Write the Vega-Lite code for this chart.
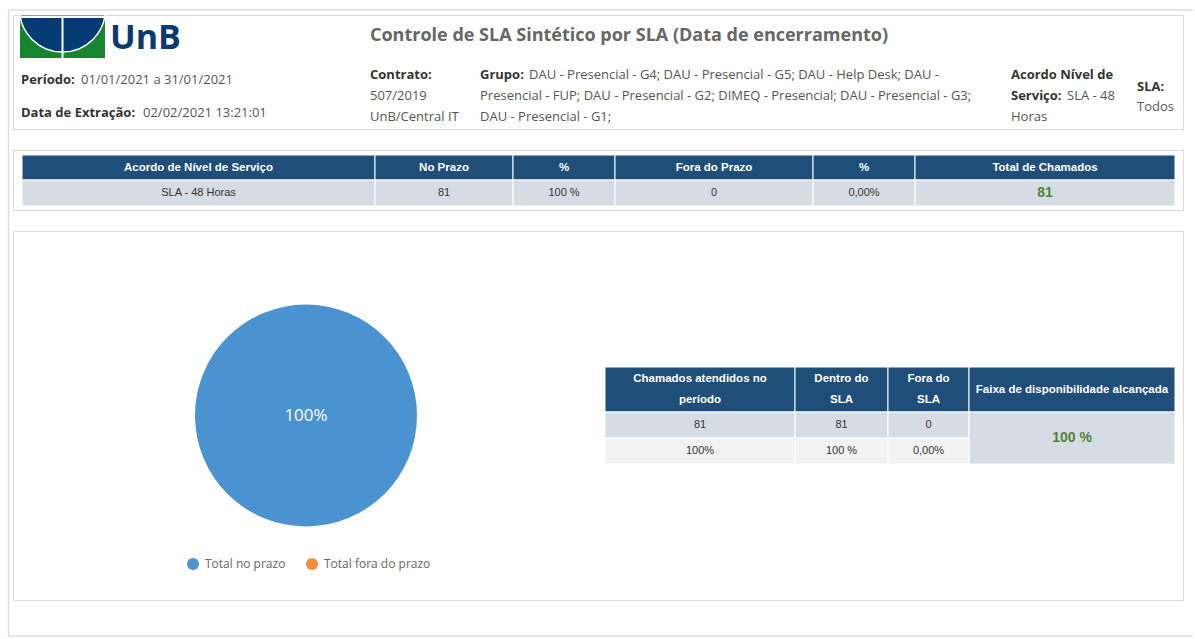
{
  "$schema": "https://vega.github.io/schema/vega-lite/v6.json",
  "background": "white",
  "padding": {"left": 7, "top": 8, "right": 0, "bottom": 2},
  "spacing": 21,
  "bounds": "flush",
  "config": {"view": {"stroke": "#d9d9d9", "strokeWidth": 1}, "font": "Open Sans"},
  "datasets": {
    "cabecalho": [
      {"bloco": 1, "linha": 0, "titulo": "Controle de SLA Sintético por SLA (Data de encerramento)"},
      {"bloco": 0, "linha": 1, "rotulo": "Período:", "valor": "01/01/2021 a 31/01/2021"},
      {"bloco": 0, "linha": 2, "rotulo": "Data de Extração:", "valor": "02/02/2021 13:21:01"},
      {"bloco": 1, "linha": 1, "rotulo": "Contrato:"},
      {"bloco": 1, "linha": 2, "valor": "507/2019"},
      {"bloco": 1, "linha": 3, "valor": "UnB/Central IT"},
      {"bloco": 2, "linha": 1, "rotulo": "Grupo:", "valor": "DAU - Presencial - G4; DAU - Presencial - G5; DAU - Help Desk; DAU -"},
      {"bloco": 2, "linha": 2, "valor": "Presencial - FUP; DAU - Presencial - G2; DIMEQ - Presencial; DAU - Presencial - G3;"},
      {"bloco": 2, "linha": 3, "valor": "DAU - Presencial - G1;"},
      {"bloco": 3, "linha": 1, "rotulo": "Acordo Nível de"},
      {"bloco": 3, "linha": 2, "rotulo": "Serviço:", "valor": "SLA - 48"},
      {"bloco": 3, "linha": 3, "valor": "Horas"},
      {"bloco": 4, "linha": 1, "rotulo": "SLA:"},
      {"bloco": 4, "linha": 2, "valor": "Todos"}
    ],
    "tabelaSla": [
      {"linha": 0, "coluna": 0, "linhas": 1, "colunas": 1, "texto": "Acordo de Nível de Serviço"},
      {"linha": 0, "coluna": 1, "linhas": 1, "colunas": 1, "texto": "No Prazo"},
      {"linha": 0, "coluna": 2, "linhas": 1, "colunas": 1, "texto": "%"},
      {"linha": 0, "coluna": 3, "linhas": 1, "colunas": 1, "texto": "Fora do Prazo"},
      {"linha": 0, "coluna": 4, "linhas": 1, "colunas": 1, "texto": "%"},
      {"linha": 0, "coluna": 5, "linhas": 1, "colunas": 1, "texto": "Total de Chamados"},
      {"linha": 1, "coluna": 0, "linhas": 1, "colunas": 1, "texto": "SLA - 48 Horas"},
      {"linha": 1, "coluna": 1, "linhas": 1, "colunas": 1, "texto": "81"},
      {"linha": 1, "coluna": 2, "linhas": 1, "colunas": 1, "texto": "100 %"},
      {"linha": 1, "coluna": 3, "linhas": 1, "colunas": 1, "texto": "0"},
      {"linha": 1, "coluna": 4, "linhas": 1, "colunas": 1, "texto": "0,00%"},
      {"linha": 1, "coluna": 5, "linhas": 1, "colunas": 1, "texto": "81", "destaque": true}
    ],
    "grafico": [
      {"situacao": "Total no prazo", "chamados": 81, "percentual": "100%"},
      {"situacao": "Total fora do prazo", "chamados": 0, "percentual": "0%"}
    ],
    "tabelaResumo": [
      {"linha": 0, "coluna": 0, "linhas": 1, "colunas": 1, "texto": "Chamados atendidos no\nperíodo"},
      {"linha": 0, "coluna": 1, "linhas": 1, "colunas": 1, "texto": "Dentro do\nSLA"},
      {"linha": 0, "coluna": 2, "linhas": 1, "colunas": 1, "texto": "Fora do\nSLA"},
      {"linha": 0, "coluna": 3, "linhas": 1, "colunas": 1, "texto": "Faixa de disponibilidade alcançada"},
      {"linha": 1, "coluna": 0, "linhas": 1, "colunas": 1, "texto": "81"},
      {"linha": 1, "coluna": 1, "linhas": 1, "colunas": 1, "texto": "81"},
      {"linha": 1, "coluna": 2, "linhas": 1, "colunas": 1, "texto": "0"},
      {"linha": 1, "coluna": 3, "linhas": 2, "colunas": 1, "texto": "100 %", "destaque": true},
      {"linha": 2, "coluna": 0, "linhas": 1, "colunas": 1, "texto": "100%"},
      {"linha": 2, "coluna": 1, "linhas": 1, "colunas": 1, "texto": "100 %"},
      {"linha": 2, "coluna": 2, "linhas": 1, "colunas": 1, "texto": "0,00%"}
    ]
  },
  "vconcat": [
    {
      "width": 1170,
      "height": 114,
      "resolve": {"scale": {"x": "independent", "y": "independent"}},
      "layer": [
        {
          "data": {"values": [{}]},
          "mark": {"type": "rule", "stroke": "#dddddd", "strokeWidth": 1.5},
          "encoding": {
            "x": {"datum": -4.5, "type": "quantitative", "scale": {"domain": [0, 1170], "range": [0, 1170], "nice": false, "zero": false}, "axis": null},
            "x2": {"datum": 1180},
            "y": {"datum": -5, "type": "quantitative", "scale": {"domain": [0, 114], "range": [0, 114], "nice": false, "zero": false}, "axis": null}
          }
        },
        {
          "data": {"values": [{}]},
          "mark": {"type": "rule", "stroke": "#dddddd", "strokeWidth": 1.5},
          "encoding": {
            "x": {"datum": -4.5, "type": "quantitative", "scale": {"domain": [0, 1170], "range": [0, 1170], "nice": false, "zero": false}, "axis": null},
            "y": {"datum": -5, "type": "quantitative", "scale": {"domain": [0, 114], "range": [0, 114], "nice": false, "zero": false}, "axis": null},
            "y2": {"datum": 621}
          }
        },
        {
          "data": {"values": [{}]},
          "mark": {"type": "rule", "stroke": "#dddddd", "strokeWidth": 1.5},
          "encoding": {
            "x": {"datum": -4.5, "type": "quantitative", "scale": {"domain": [0, 1170], "range": [0, 1170], "nice": false, "zero": false}, "axis": null},
            "x2": {"datum": 1180},
            "y": {"datum": 621, "type": "quantitative", "scale": {"domain": [0, 114], "range": [0, 114], "nice": false, "zero": false}, "axis": null}
          }
        },
        {
          "data": {"values": [{}]},
          "mark": {"type": "rect", "fill": "#17852f"},
          "encoding": {
            "x": {"datum": 0, "type": "quantitative", "scale": {"domain": [0, 85], "range": [7, 92], "nice": false, "zero": false}, "axis": null},
            "x2": {"datum": 85},
            "y": {"datum": 0, "type": "quantitative", "scale": {"domain": [0, 40], "range": [3, 43], "nice": false, "zero": false}, "axis": null},
            "y2": {"datum": 40}
          }
        },
        {
          "data": {"values": [{}]},
          "mark": {"type": "arc", "fill": "#063c73", "stroke": "white", "strokeWidth": 1.5, "outerRadius": 43, "theta": 0, "theta2": 6.2832, "clip": true},
          "encoding": {
            "x": {"datum": 42.5, "type": "quantitative", "scale": {"domain": [0, 85], "range": [7, 92], "nice": false, "zero": false}, "axis": null},
            "y": {"datum": -9, "type": "quantitative", "scale": {"domain": [0, 40], "range": [3, 43], "nice": false, "zero": false}, "axis": null}
          }
        },
        {
          "data": {"values": [{}]},
          "mark": {"type": "rect", "fill": "white"},
          "encoding": {
            "x": {"datum": -1.5, "type": "quantitative", "scale": {"domain": [0, 85], "range": [7, 92], "nice": false, "zero": false}, "axis": null},
            "x2": {"datum": 86.5},
            "y": {"datum": -2.5, "type": "quantitative", "scale": {"domain": [0, 40], "range": [3, 43], "nice": false, "zero": false}, "axis": null},
            "y2": {"datum": 0}
          }
        },
        {
          "data": {"values": [{}]},
          "mark": {"type": "rect", "fill": "white"},
          "encoding": {
            "x": {"datum": 41.5, "type": "quantitative", "scale": {"domain": [0, 85], "range": [7, 92], "nice": false, "zero": false}, "axis": null},
            "x2": {"datum": 43.5},
            "y": {"datum": 0, "type": "quantitative", "scale": {"domain": [0, 40], "range": [3, 43], "nice": false, "zero": false}, "axis": null},
            "y2": {"datum": 40}
          }
        },
        {
          "data": {"values": [{"instituicao": "UnB"}]},
          "mark": {"type": "text", "font": "Open Sans", "fontSize": 34, "fontWeight": "bold", "color": "#0b3a70", "align": "left", "baseline": "middle"},
          "encoding": {
            "text": {"field": "instituicao"},
            "x": {"datum": 90, "type": "quantitative", "scale": {"domain": [0, 85], "range": [7, 92], "nice": false, "zero": false}, "axis": null},
            "y": {"datum": 21, "type": "quantitative", "scale": {"domain": [0, 40], "range": [3, 43], "nice": false, "zero": false}, "axis": null}
          }
        },
        {
          "data": {"name": "cabecalho"},
          "transform": [{"filter": "isValid(datum.titulo)"}],
          "mark": {"type": "text", "font": "Open Sans", "fontSize": 18, "fontWeight": "bold", "color": "#666666", "align": "left", "baseline": "middle"},
          "encoding": {
            "text": {"field": "titulo"},
            "x": {"field": "bloco", "type": "quantitative", "scale": {"domain": [0, 1, 2, 3, 4], "range": [8, 357, 467, 998, 1124], "nice": false, "zero": false}, "axis": null},
            "y": {"field": "linha", "type": "quantitative", "scale": {"domain": [0, 1, 2, 3], "range": [21, 60, 81, 101.5], "nice": false, "zero": false}, "axis": null}
          }
        },
        {
          "data": {"name": "cabecalho"},
          "transform": [{"filter": "datum.bloco >= 1 && datum.bloco <= 3 && isValid(datum.rotulo)"}],
          "mark": {"type": "text", "font": "Open Sans", "fontSize": 13, "fontWeight": "bold", "color": "#333333", "align": "left", "baseline": "middle"},
          "encoding": {
            "text": {"field": "rotulo"},
            "x": {"field": "bloco", "type": "quantitative", "scale": {"domain": [0, 1, 2, 3, 4], "range": [8, 357, 467, 998, 1124], "nice": false, "zero": false}, "axis": null},
            "y": {"field": "linha", "type": "quantitative", "scale": {"domain": [0, 1, 2, 3], "range": [21, 60, 81, 101.5], "nice": false, "zero": false}, "axis": null}
          }
        },
        {
          "data": {"name": "cabecalho"},
          "transform": [{"filter": "datum.bloco >= 1 && datum.bloco <= 3 && isValid(datum.valor) && !isValid(datum.rotulo)"}],
          "mark": {"type": "text", "font": "Open Sans", "fontSize": 13, "color": "#555555", "align": "left", "baseline": "middle"},
          "encoding": {
            "text": {"field": "valor"},
            "x": {"field": "bloco", "type": "quantitative", "scale": {"domain": [0, 1, 2, 3, 4], "range": [8, 357, 467, 998, 1124], "nice": false, "zero": false}, "axis": null},
            "y": {"field": "linha", "type": "quantitative", "scale": {"domain": [0, 1, 2, 3], "range": [21, 60, 81, 101.5], "nice": false, "zero": false}, "axis": null}
          }
        },
        {
          "data": {"name": "cabecalho"},
          "transform": [{"filter": "datum.bloco >= 2 && datum.bloco <= 3 && isValid(datum.valor) && isValid(datum.rotulo)"}],
          "mark": {"type": "text", "font": "Open Sans", "fontSize": 13, "color": "#555555", "align": "left", "baseline": "middle"},
          "encoding": {
            "text": {"field": "valor"},
            "x": {"field": "bloco", "type": "quantitative", "scale": {"domain": [2, 3], "range": [516, 1054], "nice": false, "zero": false}, "axis": null},
            "y": {"field": "linha", "type": "quantitative", "scale": {"domain": [0, 1, 2, 3], "range": [21, 60, 81, 101.5], "nice": false, "zero": false}, "axis": null}
          }
        },
        {
          "data": {"name": "cabecalho"},
          "transform": [{"filter": "datum.bloco == 0"}],
          "mark": {"type": "text", "font": "Open Sans", "fontSize": 13, "fontWeight": "bold", "color": "#333333", "align": "left", "baseline": "middle"},
          "encoding": {
            "text": {"field": "rotulo"},
            "x": {"field": "bloco", "type": "quantitative", "scale": {"domain": [0, 1, 2, 3, 4], "range": [8, 357, 467, 998, 1124], "nice": false, "zero": false}, "axis": null},
            "y": {"field": "linha", "type": "quantitative", "scale": {"domain": [1, 2], "range": [65, 98], "nice": false, "zero": false}, "axis": null}
          }
        },
        {
          "data": {"name": "cabecalho"},
          "transform": [{"filter": "datum.bloco == 0"}],
          "mark": {"type": "text", "font": "Open Sans", "fontSize": 13, "color": "#555555", "align": "left", "baseline": "middle"},
          "encoding": {
            "text": {"field": "valor"},
            "x": {"field": "linha", "type": "quantitative", "scale": {"domain": [1, 2], "range": [68, 130], "nice": false, "zero": false}, "axis": null},
            "y": {"field": "linha", "type": "quantitative", "scale": {"domain": [1, 2], "range": [65, 98], "nice": false, "zero": false}, "axis": null}
          }
        },
        {
          "data": {"name": "cabecalho"},
          "transform": [{"filter": "datum.bloco == 4 && isValid(datum.rotulo)"}],
          "mark": {"type": "text", "font": "Open Sans", "fontSize": 13, "fontWeight": "bold", "color": "#333333", "align": "left", "baseline": "middle"},
          "encoding": {
            "text": {"field": "rotulo"},
            "x": {"field": "bloco", "type": "quantitative", "scale": {"domain": [0, 1, 2, 3, 4], "range": [8, 357, 467, 998, 1124], "nice": false, "zero": false}, "axis": null},
            "y": {"field": "linha", "type": "quantitative", "scale": {"domain": [1, 2], "range": [72, 92], "nice": false, "zero": false}, "axis": null}
          }
        },
        {
          "data": {"name": "cabecalho"},
          "transform": [{"filter": "datum.bloco == 4 && isValid(datum.valor)"}],
          "mark": {"type": "text", "font": "Open Sans", "fontSize": 13, "color": "#555555", "align": "left", "baseline": "middle"},
          "encoding": {
            "text": {"field": "valor"},
            "x": {"field": "bloco", "type": "quantitative", "scale": {"domain": [0, 1, 2, 3, 4], "range": [8, 357, 467, 998, 1124], "nice": false, "zero": false}, "axis": null},
            "y": {"field": "linha", "type": "quantitative", "scale": {"domain": [1, 2], "range": [72, 92], "nice": false, "zero": false}, "axis": null}
          }
        }
      ]
    },
    {
      "width": 1170,
      "height": 60,
      "data": {"name": "tabelaSla"},
      "resolve": {"scale": {"x": "independent", "y": "independent"}},
      "layer": [
        {
          "transform": [
            {"stack": "colunas", "groupby": ["linha"], "sort": [{"field": "coluna", "order": "ascending"}], "as": ["col0", "col1"]},
            {"stack": "linhas", "groupby": ["coluna"], "sort": [{"field": "linha", "order": "ascending"}], "as": ["lin0", "lin1"]}
          ],
          "mark": {"type": "rect", "stroke": "white", "strokeWidth": 1},
          "encoding": {
            "x": {"field": "col0", "type": "quantitative", "scale": {"domain": [0, 1, 2, 3, 4, 5, 6], "range": [9, 362, 500, 602, 800, 902, 1162], "nice": false, "zero": false}, "axis": null},
            "x2": {"field": "col1"},
            "y": {"field": "lin0", "type": "quantitative", "scale": {"domain": [0, 1, 2], "range": [5, 30, 56], "nice": false, "zero": false}, "axis": null},
            "y2": {"field": "lin1"},
            "fill": {"field": "linha", "type": "ordinal", "scale": {"domain": [0, 1, 2], "range": ["#1f4e79", "#d6dce4", "#f2f2f2"]}, "legend": null}
          }
        },
        {
          "transform": [{"filter": "datum.linha == 0"}],
          "mark": {"type": "text", "font": "Liberation Sans", "fontSize": 11.5, "fontWeight": "bold", "color": "white", "baseline": "middle"},
          "encoding": {
            "text": {"field": "texto"},
            "x": {"field": "coluna", "type": "quantitative", "scale": {"domain": [0, 1, 2, 3, 4, 5], "range": [185.5, 431, 551, 701, 851, 1032], "nice": false, "zero": false}, "axis": null},
            "y": {"field": "linha", "type": "quantitative", "scale": {"domain": [0, 1], "range": [17.5, 43], "nice": false, "zero": false}, "axis": null}
          }
        },
        {
          "transform": [{"filter": "datum.linha > 0 && !datum.destaque"}],
          "mark": {"type": "text", "font": "Liberation Sans", "fontSize": 11, "color": "#333333", "baseline": "middle"},
          "encoding": {
            "text": {"field": "texto"},
            "x": {"field": "coluna", "type": "quantitative", "scale": {"domain": [0, 1, 2, 3, 4, 5], "range": [185.5, 431, 551, 701, 851, 1032], "nice": false, "zero": false}, "axis": null},
            "y": {"field": "linha", "type": "quantitative", "scale": {"domain": [0, 1], "range": [17.5, 43], "nice": false, "zero": false}, "axis": null}
          }
        },
        {
          "transform": [{"filter": "datum.destaque == true"}],
          "mark": {"type": "text", "font": "Liberation Sans", "fontSize": 14, "fontWeight": "bold", "color": "#548235", "baseline": "middle"},
          "encoding": {
            "text": {"field": "texto"},
            "x": {"field": "coluna", "type": "quantitative", "scale": {"domain": [0, 1, 2, 3, 4, 5], "range": [185.5, 431, 551, 701, 851, 1032], "nice": false, "zero": false}, "axis": null},
            "y": {"field": "linha", "type": "quantitative", "scale": {"domain": [0, 1], "range": [17.5, 43], "nice": false, "zero": false}, "axis": null}
          }
        }
      ]
    },
    {
      "width": 1170,
      "height": 369,
      "resolve": {"scale": {"x": "independent", "y": "independent"}},
      "layer": [
        {
          "data": {"name": "grafico"},
          "mark": {"type": "arc", "outerRadius": 111},
          "encoding": {
            "theta": {"field": "chamados", "type": "quantitative", "stack": true},
            "color": {
              "field": "situacao",
              "type": "nominal",
              "scale": {"domain": ["Total no prazo", "Total fora do prazo"], "range": ["#4a92d0", "#f5893c"]},
              "legend": {"orient": "none", "legendX": 174, "legendY": 543, "direction": "horizontal", "title": null, "symbolType": "circle", "symbolSize": 144, "symbolStrokeWidth": 0, "labelFont": "Open Sans", "labelFontSize": 12, "labelColor": "#666666", "labelOffset": 6, "columnPadding": 20, "padding": 0}
            },
            "x": {"field": "situacao", "type": "nominal", "scale": {"range": [293, 293]}, "axis": null},
            "y": {"field": "situacao", "type": "nominal", "scale": {"range": [184.5, 184.5]}, "axis": null}
          }
        },
        {
          "data": {"name": "grafico"},
          "transform": [{"filter": "datum.chamados > 0"}],
          "mark": {"type": "text", "font": "Open Sans", "fontSize": 17, "color": "white", "baseline": "middle"},
          "encoding": {
            "text": {"field": "percentual"},
            "x": {"field": "situacao", "type": "nominal", "scale": {"range": [293, 293]}, "axis": null},
            "y": {"field": "situacao", "type": "nominal", "scale": {"range": [184.5, 184.5]}, "axis": null}
          }
        },
        {
          "data": {"name": "tabelaResumo"},
          "transform": [
            {"stack": "colunas", "groupby": ["linha"], "sort": [{"field": "coluna", "order": "ascending"}], "as": ["col0", "col1"]},
            {"stack": "linhas", "groupby": ["coluna"], "sort": [{"field": "linha", "order": "ascending"}], "as": ["lin0", "lin1"]}
          ],
          "mark": {"type": "rect", "stroke": "white", "strokeWidth": 1},
          "encoding": {
            "x": {"field": "col0", "type": "quantitative", "scale": {"domain": [0, 1, 2, 3, 4], "range": [592, 782, 875, 956, 1162], "nice": false, "zero": false}, "axis": null},
            "x2": {"field": "col1"},
            "y": {"field": "lin0", "type": "quantitative", "scale": {"domain": [0, 1, 2, 3], "range": [136, 181, 207, 233], "nice": false, "zero": false}, "axis": null},
            "y2": {"field": "lin1"},
            "fill": {"field": "linha", "type": "ordinal", "scale": {"domain": [0, 1, 2], "range": ["#1f4e79", "#d6dce4", "#f2f2f2"]}, "legend": null}
          }
        },
        {
          "data": {"name": "tabelaResumo"},
          "transform": [{"filter": "datum.linha == 0 && indexof(datum.texto, '\\n') < 0"}],
          "mark": {"type": "text", "font": "Liberation Sans", "fontSize": 11.5, "fontWeight": "bold", "color": "white", "baseline": "middle"},
          "encoding": {
            "text": {"field": "texto"},
            "x": {"field": "coluna", "type": "quantitative", "scale": {"domain": [0, 1, 2, 3], "range": [687, 828.5, 915.5, 1059], "nice": false, "zero": false}, "axis": null},
            "y": {"field": "linha", "type": "quantitative", "scale": {"domain": [0, 1, 2], "range": [158.5, 194, 220], "nice": false, "zero": false}, "axis": null}
          }
        },
        {
          "data": {"name": "tabelaResumo"},
          "transform": [{"filter": "datum.linha == 0 && indexof(datum.texto, '\\n') >= 0"}],
          "mark": {"type": "text", "font": "Liberation Sans", "fontSize": 11.5, "fontWeight": "bold", "color": "white", "baseline": "middle", "lineBreak": "\n", "lineHeight": 21},
          "encoding": {
            "text": {"field": "texto"},
            "x": {"field": "coluna", "type": "quantitative", "scale": {"domain": [0, 1, 2, 3], "range": [687, 828.5, 915.5, 1059], "nice": false, "zero": false}, "axis": null},
            "y": {"field": "linha", "type": "quantitative", "scale": {"domain": [0, 1, 2], "range": [148, 194, 220], "nice": false, "zero": false}, "axis": null}
          }
        },
        {
          "data": {"name": "tabelaResumo"},
          "transform": [{"filter": "datum.linha > 0 && !datum.destaque"}],
          "mark": {"type": "text", "font": "Liberation Sans", "fontSize": 11, "color": "#333333", "baseline": "middle"},
          "encoding": {
            "text": {"field": "texto"},
            "x": {"field": "coluna", "type": "quantitative", "scale": {"domain": [0, 1, 2, 3], "range": [687, 828.5, 915.5, 1059], "nice": false, "zero": false}, "axis": null},
            "y": {"field": "linha", "type": "quantitative", "scale": {"domain": [0, 1, 2], "range": [158.5, 194, 220], "nice": false, "zero": false}, "axis": null}
          }
        },
        {
          "data": {"name": "tabelaResumo"},
          "transform": [{"filter": "datum.destaque == true"}],
          "mark": {"type": "text", "font": "Liberation Sans", "fontSize": 14, "fontWeight": "bold", "color": "#548235", "baseline": "middle"},
          "encoding": {
            "text": {"field": "texto"},
            "x": {"field": "coluna", "type": "quantitative", "scale": {"domain": [0, 1, 2, 3], "range": [687, 828.5, 915.5, 1059], "nice": false, "zero": false}, "axis": null},
            "y": {"field": "linha", "type": "quantitative", "scale": {"domain": [1, 2], "range": [207, 233], "nice": false, "zero": false}, "axis": null}
          }
        }
      ]
    }
  ]
}
